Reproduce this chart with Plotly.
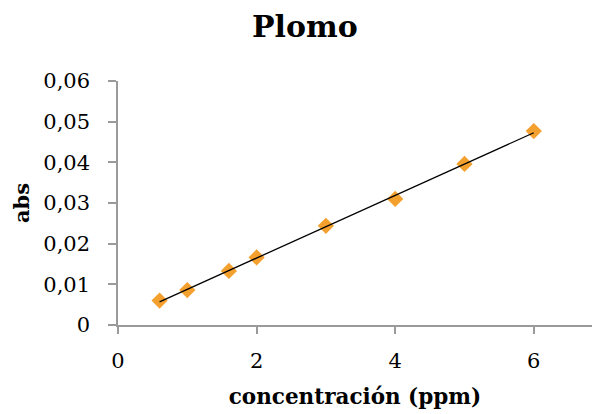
import numpy as np
import plotly.graph_objects as go

conc_ppm = [0.6, 1.0, 1.6, 2.0, 3.0, 4.0, 5.0, 6.0]
absorbance = [0.0060, 0.0086, 0.0133, 0.0166, 0.0244, 0.0310, 0.0396, 0.0477]
y_ticks = [0, 0.01, 0.02, 0.03, 0.04, 0.05, 0.06]
y_tick_labels = ["0", "0,01", "0,02", "0,03", "0,04", "0,05", "0,06"]
x_ticks = [0, 2, 4, 6]
x_tick_labels = ["0", "2", "4", "6"]

slope, intercept = np.polyfit(conc_ppm, absorbance, 1)
fit_x = [min(conc_ppm), max(conc_ppm)]
fit_y = [slope * v + intercept for v in fit_x]

font_family = "DejaVu Serif"
axis_color = "#9a9a9a"

fig = go.Figure()
fig.add_trace(go.Scatter(
    x=conc_ppm, y=absorbance, mode="markers",
    marker=dict(symbol="diamond", size=12.5, color="#F4A02E"),
    showlegend=False, cliponaxis=False,
))
fig.add_trace(go.Scatter(
    x=fit_x, y=fit_y, mode="lines",
    line=dict(color="black", width=1.3),
    showlegend=False,
))

fig.update_layout(
    width=592, height=414,
    margin=dict(l=118, r=0, t=81, b=89),
    paper_bgcolor="white", plot_bgcolor="white",
    font=dict(family=font_family, color="black", size=20),
    title=dict(text="<b>Plomo</b>", x=0.515, xanchor="center",
               y=0.937, yanchor="middle",
               font=dict(family=font_family, size=30, color="black")),
)
fig.update_xaxes(
    range=[0, 6.84], tickvals=x_ticks, ticktext=x_tick_labels,
    showgrid=False, zeroline=False, automargin=False,
    showline=True, linecolor=axis_color, linewidth=1.5,
    ticks="outside", ticklen=7, tickcolor=axis_color, tickwidth=1.5,
    ticklabelstandoff=9,
    tickfont=dict(family=font_family, size=21, color="black"),
    title=dict(text="<b>concentración (ppm)</b>", standoff=17,
               font=dict(family=font_family, size=21.5, color="black")),
)
fig.update_yaxes(
    range=[0, 0.06], tickvals=y_ticks, ticktext=y_tick_labels,
    showgrid=False, zeroline=False, automargin=False,
    showline=True, linecolor=axis_color, linewidth=1.5,
    ticks="outside", ticklen=8, tickcolor=axis_color, tickwidth=1.5,
    ticklabelstandoff=14,
    tickfont=dict(family=font_family, size=21, color="black"),
    title=dict(text="<b>abs</b>", standoff=8,
               font=dict(family=font_family, size=21, color="black")),
)

fig.write_html(
    "out.html",
    config={"displayModeBar": False},
    post_script="document.body.style.margin='0';document.body.style.overflow='hidden';",
)
